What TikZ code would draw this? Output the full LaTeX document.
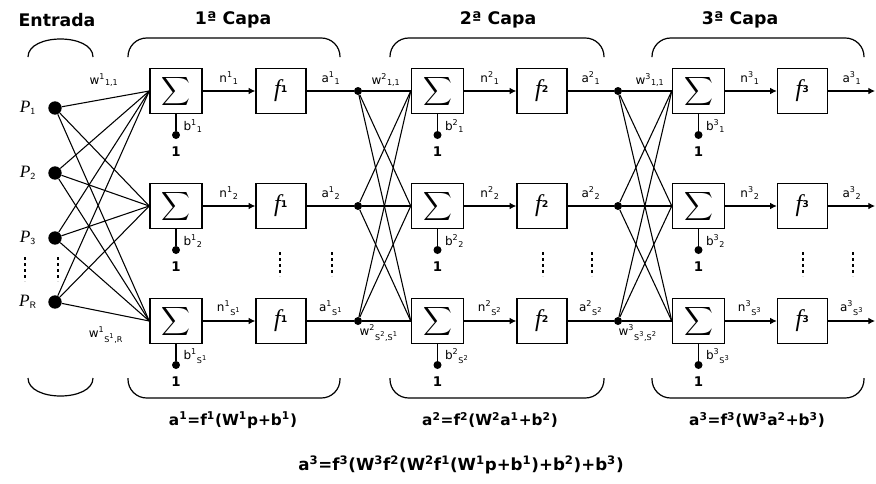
\documentclass[tikz,border=0pt]{standalone}
\usepackage{fontspec}
\setmainfont{DejaVu Sans}
\newfontfamily\serifit{Liberation Serif}
\usepackage{graphicx}
\usetikzlibrary{arrows.meta}
\newcommand\sigsym{\scalebox{1.5}{$\displaystyle\sum$}}
\newcommand\fsym[1]{{\serifit\itshape\fontsize{18}{18}\selectfont f}\textsuperscript{\bfseries #1}}
\newcommand\ssx[3]{#1\textsuperscript{#2}\textsubscript{#3}}
\tikzset{
 conn/.style={line width=0.8pt},
 sumbox/.style={draw, line width=1.1pt, minimum width=39pt, minimum height=33.75pt, inner sep=0pt, fill=white},
 fnbox/.style={draw, line width=1.1pt, minimum width=37.5pt, minimum height=33.75pt, inner sep=0pt, fill=white},
 indot/.style={circle, fill, inner sep=0pt, minimum size=10pt},
 jdot/.style={circle, fill, inner sep=0pt, minimum size=6pt},
 lbl/.style={font=\fontsize{9}{10}\selectfont, inner sep=1pt},
 plbl/.style={font=\serifit\itshape\fontsize{13}{14}\selectfont, inner sep=0pt},
 ttl/.style={font=\fontsize{13}{15}\selectfont\bfseries},
 eqn/.style={font=\fontsize{11.5}{13}\selectfont\bfseries},
 arr/.style={conn, -{Latex[length=5pt,width=5pt]}},
 brk/.style={line width=0.9pt},
 vdotline/.style={line width=2pt, dash pattern=on 2pt off 2.5pt},
}
\begin{document}
\begin{tikzpicture}[x=0.75pt,y=-0.75pt]
\useasboundingbox (0,0) rectangle (876,483);
\fill[white] (0,0) rectangle (876,483);

% titles
\node[ttl] (tE) at (57,20) {Entrada};
\node[ttl] (t1) at (233,20) {1ª Capa};
\node[ttl] (t2) at (498,20) {2ª Capa};
\node[ttl] (t3) at (740,20) {3ª Capa};

% brackets top
\draw[brk] (28,57) .. controls (28,33) and (93,33) .. (93,57);
\draw[brk, rounded corners=14pt] (128,57) -- (128,38) -- (340,38) -- (340,57);
\draw[brk, rounded corners=14pt] (390,57) -- (390,38) -- (604,38) -- (604,57);
\draw[brk, rounded corners=14pt] (652,57) -- (652,38) -- (864,38) -- (864,57);
% brackets bottom
\draw[brk] (28,378) .. controls (28,402) and (93,402) .. (93,378);
\draw[brk, rounded corners=14pt] (128,378) -- (128,398) -- (340,398) -- (340,378);
\draw[brk, rounded corners=14pt] (390,378) -- (390,398) -- (604,398) -- (604,378);
\draw[brk, rounded corners=14pt] (652,378) -- (652,398) -- (864,398) -- (864,378);

% inputs
\foreach \i/\y/\t in {1/108/1,2/173/2,3/238/3,4/302/R}{
  \node[indot] (p\i) at (55,\y) {};
  \node[plbl] (pl\i) at (28,\y) {P\textsubscript{\upshape\sffamily\fontsize{7}{8}\selectfont \t}};
}

% layers
\foreach \r/\y/\ka/\kb/\kc in {1/91/1/1/1,2/206/2/2/2,3/321/{S\textsuperscript{1}}/{S\textsuperscript{2}}/{S\textsuperscript{3}}}{
  \node[sumbox] (s1\r) at (176,\y) {\sigsym};
  \node[fnbox] (f1\r) at (281,\y) {\fsym{1}};
  \node[jdot] (d2\r) at (358,\y) {};
  \node[sumbox] (s2\r) at (437.5,\y) {\sigsym};
  \node[fnbox] (f2\r) at (542,\y) {\fsym{2}};
  \node[jdot] (d3\r) at (618,\y) {};
  \node[sumbox] (s3\r) at (698.5,\y) {\sigsym};
  \node[fnbox] (f3\r) at (802.5,\y) {\fsym{3}};
  \coordinate (out\r) at (875,\y);
  % sum -> f
  \draw[arr] (s1\r) -- (f1\r);
  \draw[arr] (s2\r) -- (f2\r);
  \draw[arr] (s3\r) -- (f3\r);
  \draw[conn] (f1\r) -- (d2\r);
  \draw[conn] (f2\r) -- (d3\r);
  \draw[arr] (f3\r) -- (out\r);
  % labels n, a
  \node[lbl] (n1\r) at (229,\y-13) {\ssx{n}{1}{\ka}};
  \node[lbl] (n2\r) at (490,\y-13) {\ssx{n}{2}{\kb}};
  \node[lbl] (n3\r) at (750,\y-13) {\ssx{n}{3}{\kc}};
  \node[lbl] (a1\r) at (331,\y-13) {\ssx{a}{1}{\ka}};
  \node[lbl] (a2\r) at (591,\y-13) {\ssx{a}{2}{\kb}};
  \node[lbl] (a3\r) at (852,\y-13) {\ssx{a}{3}{\kc}};
  % bias
  \node[jdot] (bd1\r) at (176,\y+44) {};
  \node[jdot] (bd2\r) at (437.5,\y+44) {};
  \node[jdot] (bd3\r) at (698.5,\y+44) {};
  \draw[conn] (s1\r) -- (bd1\r);
  \draw[conn] (s2\r) -- (bd2\r);
  \draw[conn] (s3\r) -- (bd3\r);
  \node[lbl,font=\fontsize{10}{11}\selectfont\bfseries] (o1\r) at (176,\y+61) {1};
  \node[lbl,font=\fontsize{10}{11}\selectfont\bfseries] (o2\r) at (437.5,\y+61) {1};
  \node[lbl,font=\fontsize{10}{11}\selectfont\bfseries] (o3\r) at (698.5,\y+61) {1};
  \node[lbl,anchor=west] (b1\r) at (182,\y+35) {\ssx{b}{1}{\ka}};
  \node[lbl,anchor=west] (b2\r) at (443.5,\y+35) {\ssx{b}{2}{\kb}};
  \node[lbl,anchor=west] (b3\r) at (704.5,\y+35) {\ssx{b}{3}{\kc}};
}

% input weights
\foreach \i in {1,...,4}{
  \foreach \r in {1,2,3}{
    \draw[conn] (p\i) -- (s1\r.west);
  }
}
\foreach \i in {1,2,3}{
  \foreach \r in {1,2,3}{
    \draw[conn] (d2\i) -- (s2\r.west);
    \draw[conn] (d3\i) -- (s3\r.west);
  }
}

% weight labels
\node[lbl] (w1a) at (104,80) {\ssx{w}{1}{1,1}};
\node[lbl] (w1b) at (106,335) {\ssx{w}{1}{S\textsuperscript{1},R}};
\node[lbl] (w2a) at (386,80) {\ssx{w}{2}{1,1}};
\node[lbl] (w2b) at (379,333) {\ssx{w}{2}{S\textsuperscript{2},S\textsuperscript{1}}};
\node[lbl] (w3a) at (650,80) {\ssx{w}{3}{1,1}};
\node[lbl] (w3b) at (638,333) {\ssx{w}{3}{S\textsuperscript{3},S\textsuperscript{2}}};

% vertical dots
\foreach \x in {25,58}{
  \draw[vdotline] (\x,257) -- (\x,281);
}
\foreach \x in {280,332,543,592,803,853}{
  \draw[vdotline] (\x,252) -- (\x,276);
}

% equations
\node[eqn] (e1) at (233,420) {a\textsuperscript{1}=f\textsuperscript{1}(W\textsuperscript{1}p+b\textsuperscript{1})};
\node[eqn] (e2) at (490,420) {a\textsuperscript{2}=f\textsuperscript{2}(W\textsuperscript{2}a\textsuperscript{1}+b\textsuperscript{2})};
\node[eqn] (e3) at (757,420) {a\textsuperscript{3}=f\textsuperscript{3}(W\textsuperscript{3}a\textsuperscript{2}+b\textsuperscript{3})};
\node[eqn,font=\fontsize{12.5}{14}\selectfont\bfseries] (e4) at (461,465) {a\textsuperscript{3}=f\textsuperscript{3}(W\textsuperscript{3}f\textsuperscript{2}(W\textsuperscript{2}f\textsuperscript{1}(W\textsuperscript{1}p+b\textsuperscript{1})+b\textsuperscript{2})+b\textsuperscript{3})};
\end{tikzpicture}
\end{document}
